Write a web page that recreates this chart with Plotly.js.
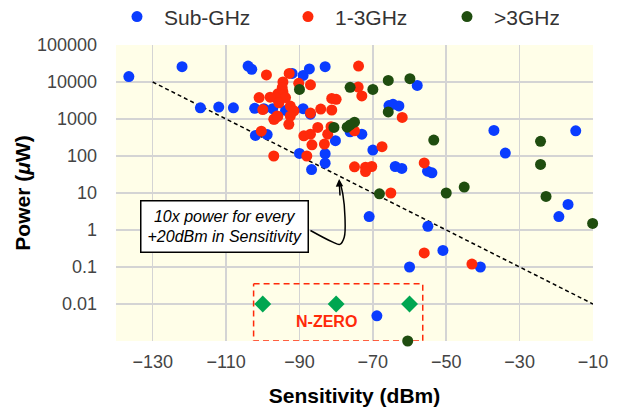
<!DOCTYPE html>
<html><head><meta charset="utf-8">
<script src="https://cdn.plot.ly/plotly-3.0.1.min.js"></script>
<style>html,body{margin:0;padding:0;background:#fff}#chart{width:618px;height:411px}</style>
</head><body><div id="chart"></div>
<script>
// ---- data ----
const subGhzX = [-136.5,-122,-117,-112,-108,-104,-103,-102.2,-102,-98.8,-99.7,-97.3,-93.8,-92,-89,-87.3,-83,-89,-87,-90,-83,-83,-86.7,-80.2,-76.2,-73,-70,-71,-63.9,-62.1,-65.6,-64.5,-62.9,-57.9,-55.1,-53.9,-55,-50.9,-60,-40.7,-68.9,-37,-33.9,-14.7,-16.8,-19.3];
const subGhzY = [14000,26000,2000,2100,2000,27000,22000,1950,360,380,1900,1900,1700,17000,15000,22500,26000,1900,1350,117,115,64,43,260,450,390,145,2.3,52,46,2300,2500,2250,8100,39,35,1.26,0.28,0.1,0.1,0.0048,490,120,480,4.9,2.3];
const midX = [-99,-92.8,-94.5,-90.2,-87,-94.7,-94.5,-95.9,-94.7,-96.5,-98,-93.8,-101,-95.6,-92.5,-91.5,-92.5,-96.1,-97,-92.9,-100,-96.8,-95.9,-100.4,-88.8,-87,-97,-88,-73.9,-74,-73,-81.2,-80,-84.2,-81.2,-87,-85,-81.4,-75,-86.6,-82.3,-83.2,-75,-72,-70.3,-72,-67.5,-62,-56,-65.1,-56,-43];
const midY = [15500,17000,10000,9200,8400,7000,5400,4800,4400,3800,3900,3800,3800,2750,2240,1660,1200,1200,980,720,1800,1000,1170,470,350,390,100,100,27000,7300,4200,3600,3400,1850,1750,1450,590,620,480,200,390,210,51,50,52,38,178,1100,65,10,0.24,0.12];
const highX = [-90,-76.2,-70,-65.8,-59.9,-65.8,-80.6,-77,-76.2,-75,-53.4,-68.2,-50,-45.1,-24.3,-24.3,-22.8,-10.1,-60.5];
const highY = [6300,7200,6300,11000,12300,1550,590,600,690,820,270,9.5,10,14.5,250,59,8.1,1.5,0.001];
const nzeroX = [-100,-80,-60];
const nzeroY = [0.01,0.01,0.01];
const trendX = [-130,-10];
const trendY = [10000,0.01];
const boxX = [-102.5,-56.4,-56.4,-102.5,-102.5];
const boxY = [0.035,0.035,0.001,0.001,0.035];
const curveX = [-87,-80.9,-79,-77.8,-77.6,-78.2,-79.0];
const curveY = [0.97,0.47,0.41,0.64,2.24,9.6,20];
const xTicks = [-130,-110,-90,-70,-50,-30,-10];
const yTicks = [0.01,0.1,1,10,100,1000,10000,100000];
const yTickText = ['0.01','0.1','1','10','100','1000','10000','100000'];

const FONT = 'Liberation Sans, Arial, sans-serif';
const BLUE = '#0a3cff', RED = '#ff2a0a', DKGREEN = '#1f4d0f', DIAMOND = '#00a651';

const traces = [
  {x: trendX, y: trendY, mode:'lines', line:{color:'#000', width:1.5, dash:'4px,3px'}, showlegend:false, hoverinfo:'skip'},
  {x: boxX, y: boxY, mode:'lines', line:{color:RED, width:1.5, dash:'6px,4px'}, showlegend:false, hoverinfo:'skip', cliponaxis:false},
  {x: curveX, y: curveY, mode:'lines', line:{color:'#000', width:1.5, shape:'spline', smoothing:1}, showlegend:false, hoverinfo:'skip'},
  {x: subGhzX, y: subGhzY, mode:'markers', name:'Sub-GHz', marker:{color:BLUE, size:11}, legendwidth:112},
  {x: midX, y: midY, mode:'markers', name:'1-3GHz', marker:{color:RED, size:11}, legendwidth:100},
  {x: highX, y: highY, mode:'markers', name:'>3GHz', marker:{color:DKGREEN, size:11}, cliponaxis:false, legendwidth:60},
  {x: nzeroX, y: nzeroY, mode:'markers', marker:{color:DIAMOND, symbol:'diamond', size:13}, showlegend:false}
];

const layout = {
  width:618, height:411,
  margin:{l:116, r:25, t:45, b:70, autoexpand:false},
  paper_bgcolor:'#fff', plot_bgcolor:'#fffee8',
  font:{family:FONT, color:'#444'},
  showlegend:true,
  legend:{orientation:'h', x:-0.0126, xanchor:'left', y:1.095, yanchor:'middle', itemwidth:44, font:{size:21, color:'#333', family:FONT}, bgcolor:'rgba(0,0,0,0)'},
  xaxis:{range:[-140,-10], tickvals:xTicks, showgrid:true, gridcolor:'#d4d4d4', gridwidth:1.5, zeroline:false, showline:false,
         tickfont:{size:18, color:'#444'}, ticklabelstandoff:8,
         title:{text:'Sensitivity (dBm)', font:{size:21, color:'#000', weight:'bold', family:FONT}, standoff:17}},
  yaxis:{type:'log', range:[-3,5], tickvals:yTicks, ticktext:yTickText, showgrid:true, gridcolor:'#d4d4d4', gridwidth:1.5, zeroline:false, showline:false,
         tickfont:{size:18, color:'#444'}, ticklabelstandoff:18,
         title:{text:'Power (<i>μ</i>W)', font:{size:21, color:'#000', weight:'bold', family:FONT}, standoff:0}},
  annotations:[
    {xref:'x', yref:'y', x:-110.4, y:0.108, text:'10x power for every<br>+20dBm in Sensitivity', showarrow:false,
     font:{size:16, color:'#000', family:FONT, style:'italic'}, bgcolor:'#fff', bordercolor:'#000', borderwidth:1.5, borderpad:6},
    {xref:'x', yref:'y', x:-79.2, y:Math.log10(24), ax:1, ay:18, text:'', showarrow:true, arrowhead:2, arrowsize:1, arrowwidth:1.5, arrowcolor:'#000'},
    {xref:'x', yref:'y', x:-82.5, y:-2.48, text:'<b>N-ZERO</b>', showarrow:false, font:{size:16, color:RED, family:FONT}}
  ]
};
Plotly.newPlot('chart', traces, layout, {displayModeBar:false, staticPlot:true});
</script>
</body></html>
